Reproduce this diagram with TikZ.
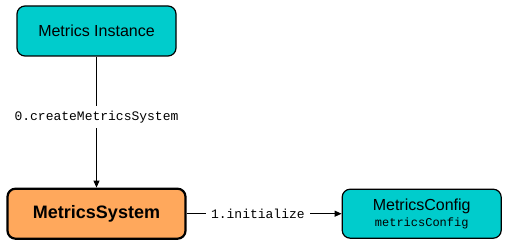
\documentclass[tikz,border=0pt]{standalone}
\usepackage{fontspec}
\setmainfont{Liberation Sans}
\setmonofont{Liberation Mono}
\usetikzlibrary{positioning, arrows.meta}

\definecolor{boxcyan}{RGB}{0,204,204}
\definecolor{boxorange}{RGB}{255,168,92}

\begin{document}
\begin{tikzpicture}[x=1pt, y=1pt, node distance=131pt,
  main node/.style={rectangle, rounded corners=8pt, draw, fill=boxcyan, line width=1.2pt,
    minimum width=159pt, minimum height=50pt, align=center, font=\fontsize{16}{18}\selectfont},
  core node/.style={main node, fill=boxorange, line width=2.2pt, minimum width=178pt,
    font=\fontsize{18}{20}\selectfont\bfseries},
  call/.style={fill=white, inner sep=5pt, font=\ttfamily\fontsize{13}{15}\selectfont}]

\useasboundingbox (0,0) rectangle (505,-243);

\node[main node] (inst) at (96.5,-31) {Metrics Instance};
\node[core node] (sys) [below=131pt of inst] {MetricsSystem};
\node[main node, minimum height=49pt] (conf) [right=155pt of sys]
  {MetricsConfig\\[-2pt]{\ttfamily\fontsize{12}{14}\selectfont metricsConfig}};

\path[line width=1pt, -{Triangle[length=7pt,width=6pt]}]
(inst) edge node [call, pos=0.46] {0.createMetricsSystem} (sys)
(sys)  edge node [call, pos=0.46] {1.initialize} (conf)
;
\end{tikzpicture}
\end{document}
